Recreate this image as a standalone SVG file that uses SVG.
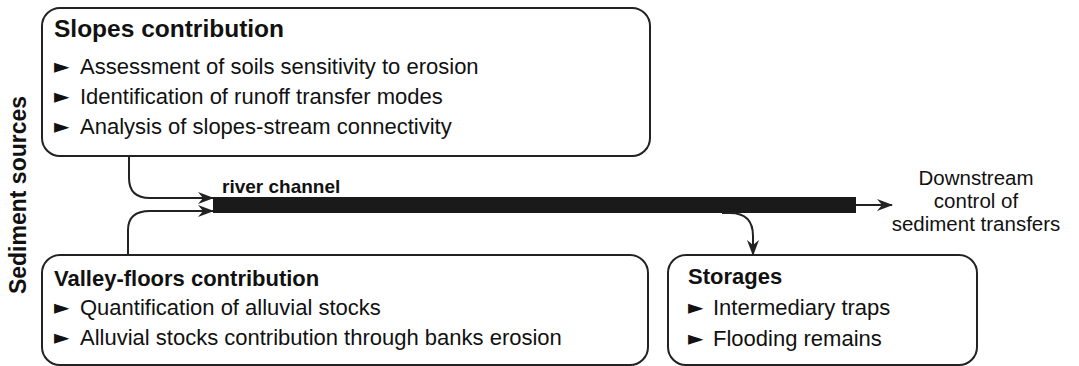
<svg xmlns="http://www.w3.org/2000/svg" width="1079" height="366" viewBox="0 0 1079 366">
<style>
.box{fill:#fff;stroke:#222;stroke-width:2}
.t{font-family:"Liberation Sans",Arial,sans-serif;fill:#111}
.h{font-weight:bold;font-size:24.5px}
.h2{font-weight:bold;font-size:22px}
.b{font-size:22px}
.m{font-family:"DejaVu Sans",sans-serif;font-size:20px;fill:#111}
.c{fill:none;stroke:#222;stroke-width:2}
</style>
<defs>
<marker id="ah" viewBox="0 0 16 12" refX="15" refY="6" markerWidth="16" markerHeight="12" markerUnits="userSpaceOnUse" orient="auto">
<path d="M0 0 L16 6 L0 12 L5 6 Z" fill="#222"/>
</marker>
</defs>
<text class="t" font-weight="bold" font-size="23" transform="translate(26 195) rotate(-90)" text-anchor="middle">Sediment sources</text>
<g id="slopes">
<rect class="box" x="42" y="8" width="608" height="148" rx="18"/>
<text class="t h" x="54" y="37">Slopes contribution</text>
<text class="m" x="54" y="73">►</text><text class="t b" x="80" y="74">Assessment of soils sensitivity to erosion</text>
<text class="m" x="54" y="103">►</text><text class="t b" x="80" y="104">Identification of runoff transfer modes</text>
<text class="m" x="54" y="133">►</text><text class="t b" x="80" y="134">Analysis of slopes-stream connectivity</text>
</g>
<g id="valley">
<rect class="box" x="42" y="255" width="606" height="110" rx="18"/>
<text class="t h2" x="54" y="286">Valley-floors contribution</text>
<text class="m" x="54" y="314">►</text><text class="t b" x="80" y="315">Quantification of alluvial stocks</text>
<text class="m" x="54" y="344">►</text><text class="t b" x="80" y="345">Alluvial stocks contribution through banks erosion</text>
</g>
<g id="storages">
<rect class="box" x="668" y="255" width="309" height="110" rx="18"/>
<text class="t h2" x="688" y="284">Storages</text>
<text class="m" x="688" y="314">►</text><text class="t b" x="713" y="315">Intermediary traps</text>
<text class="m" x="688" y="345">►</text><text class="t b" x="713" y="346">Flooding remains</text>
</g>
<g id="river">
<rect x="213" y="197" width="643" height="16" fill="#1a1a1a"/>
<text class="t" x="222" y="193" font-weight="bold" font-size="19">river channel</text>
</g>
<g id="downstream">
<text class="t" font-size="20.5" text-anchor="middle"><tspan x="976" y="185">Downstream</tspan><tspan x="976" y="208">control of</tspan><tspan x="976" y="231">sediment transfers</tspan></text>
</g>
<g id="connectors">
<path class="c" d="M129 156 V178 Q129 198 150 198 H213" marker-end="url(#ah)"/>
<path class="c" d="M128 256 V230 Q128 211 150 211 H213" marker-end="url(#ah)"/>
<path class="c" d="M856 205 H892" marker-end="url(#ah)"/>
<path class="c" d="M722 213 H730 Q753 213 753 236 V255" marker-end="url(#ah)"/>
</g>
</svg>
